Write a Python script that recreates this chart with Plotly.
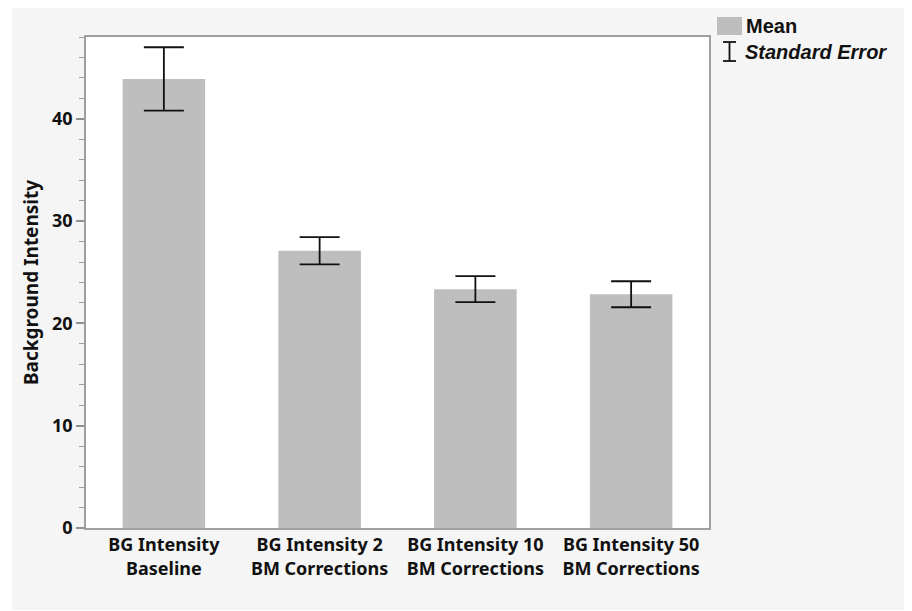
import plotly.graph_objects as go

categories = ["BG Intensity<br>Baseline", "BG Intensity 2<br>BM Corrections",
              "BG Intensity 10<br>BM Corrections", "BG Intensity 50<br>BM Corrections"]
means = [43.9, 27.1, 23.35, 22.85]
std_errors = [3.1, 1.33, 1.27, 1.27]

# page body has an 8px margin; work in screen pixels and subtract it
OFF = 8
W, H = 904, 603
L, R, T, B = 86 - OFF, 709 - OFF, 37 - OFF, 528 - OFF
PW, PH = R - L, B - T

def px(x):
    return (x - OFF - L) / PW

def py(y):
    return (B - (y - OFF)) / PH

FONT = "Noto Sans"

fig = go.Figure()
fig.add_trace(go.Bar(
    x=categories, y=means, width=0.53,
    marker=dict(color="#bebebe", line=dict(width=0)),
    error_y=dict(type="data", array=std_errors, visible=True,
                 color="#111111", thickness=1.8, width=20),
    showlegend=False, hoverinfo="skip",
))

shapes = [
    # outer light-gray panel
    dict(type="rect", xref="paper", yref="paper", layer="below",
         x0=px(12), x1=px(920), y0=py(610), y1=py(8),
         fillcolor="#f5f5f5", line=dict(width=0)),
    # white plot area
    dict(type="rect", xref="paper", yref="paper", layer="below",
         x0=0, x1=1, y0=0, y1=1, fillcolor="white", line=dict(width=0)),
    # legend: Mean swatch
    dict(type="rect", xref="paper", yref="paper",
         x0=px(717), x1=px(742), y0=py(35), y1=py(17),
         fillcolor="#bebebe", line=dict(width=0)),
    # legend: I-beam
    dict(type="line", xref="paper", yref="paper",
         x0=px(729.5), x1=px(729.5), y0=py(61), y1=py(42),
         line=dict(color="#111111", width=1.8)),
    dict(type="line", xref="paper", yref="paper",
         x0=px(723), x1=px(736), y0=py(42), y1=py(42),
         line=dict(color="#111111", width=1.8)),
    dict(type="line", xref="paper", yref="paper",
         x0=px(723), x1=px(736), y0=py(61), y1=py(61),
         line=dict(color="#111111", width=1.8)),
]

annotations = [
    dict(text="<b>Mean</b>", xref="paper", yref="paper", x=px(744), y=py(26),
         xanchor="left", yanchor="middle", showarrow=False,
         font=dict(family="Liberation Sans", size=20, color="#111111")),
    dict(text="<b><i>Standard Error</i></b>", xref="paper", yref="paper",
         x=px(743), y=py(52), xanchor="left", yanchor="middle", showarrow=False,
         font=dict(family="Liberation Sans", size=20, color="#111111")),
]

fig.update_layout(
    width=W, height=H,
    margin=dict(l=L, r=W - R, t=T, b=H - B, pad=0),
    paper_bgcolor="white", plot_bgcolor="white",
    shapes=shapes, annotations=annotations,
    bargap=0.47,
    font=dict(family=FONT, color="#111111"),
)

fig.update_xaxes(
    range=[-0.5, 3.5], showline=True, linecolor="#a0a0a0", linewidth=1.5,
    mirror=True, ticks="", showgrid=False,
    tickfont=dict(family=FONT, size=18, weight="bold", color="#111111"),
)
fig.update_yaxes(
    range=[0, 48], dtick=10, tick0=0, showline=True, linecolor="#a0a0a0",
    linewidth=1.5, mirror=True, ticks="outside", ticklen=8, tickwidth=1.5,
    tickcolor="#909090", showgrid=False, zeroline=False,
    minor=dict(dtick=2, ticks="outside", ticklen=5, tickwidth=1.2, tickcolor="#a0a0a0"),
    tickfont=dict(family=FONT, size=18, weight="bold", color="#111111"),
    title=dict(text="Background Intensity", standoff=8,
               font=dict(family=FONT, size=19, weight="bold", color="#111111")),
)

fig.write_html("out.html")
